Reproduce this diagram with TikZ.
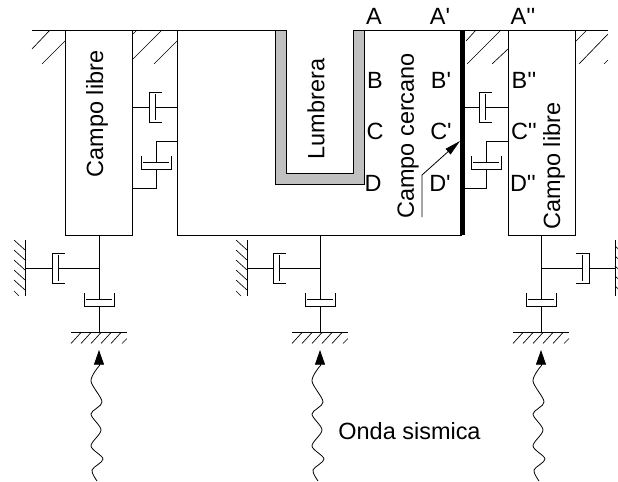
\documentclass[tikz,border=0pt]{standalone}
\usepackage{xcolor}
\usepackage{fontspec}
\newfontfamily\rotulofont{Liberation Sans}
\usetikzlibrary{arrows.meta}
\definecolor{muro}{HTML}{C0C0C0}
\tikzset{
    caja/.style={draw, rectangle, inner sep=0pt},
    rotulo/.style={inner sep=0pt},
    rotuloV/.style={inner sep=0pt, rotate=90},
    onda/.style={line width=0.6pt},
    punta/.style={-{Triangle[length=11pt, width=7.5pt]}, line width=0.6pt},
    amortiguador/.pic={
        \draw (-15,-13) -- (-15,0) -- (15,0) -- (15,-13);
        \draw (-13,-6.5) -- (13,-6.5);
        \coordinate (-cup) at (0,0);
        \coordinate (-piston) at (0,-6.5);
    },
    suelo/.pic={
        \draw (-28,0) -- (28,0);
        \foreach \t in {-18,-8,2,12,22}
            \draw[line width=0.5pt] (\t,0) -- ++(-10,11);
        \draw[line width=0.5pt] (28,6) -- (23,11);
        \coordinate (-top) at (0,0);
    },
}
\begin{document}
\begin{tikzpicture}[x=0.75pt, y=-0.75pt, line width=0.75pt, >=Stealth, font=\rotulofont\fontsize{17.6}{20}\selectfont]
    \useasboundingbox (0,0) rectangle (618,482);

    % superficie
    \draw (32,30) -- (275,30);
    \draw (364,30) -- (608,30);
    \foreach \a/\b/\c/\d in {50/30/32/49, 65/41/42/64, 137/30/132/35, 162/30/132/60, 177/41/154/64,
        476/30/466/41, 501/30/467/64, 508/49/492/64, 587/30/575/42, 608/34/579/64, 608/60/604/64}
        \draw[line width=0.5pt] (\a,\b) -- (\c,\d);

    % cajas
    \node[caja, fill=white, minimum width=50.25pt, minimum height=153.75pt] (libreL) at (98.5,132.5) {};
    \node[caja, fill=white, minimum width=50.25pt, minimum height=153.75pt] (libreR) at (541.5,132.5) {};
    \coordinate (estA) at (177,30);
    \coordinate (estB) at (177,235);
    \coordinate (estC) at (462,235);
    \coordinate (estD) at (462,30);
    \draw (estA) -- (estB) -- (estC);
    \draw (364,30) -- (estD);
    \draw[line width=3.75pt] (estD) -- (estC);
    \coordinate (estS) at (320,235);

    % lumbrera
    \draw[fill=muro] (275,30) -- (275,184) -- (364,184) -- (364,30) -- (353,30) -- (353,173) -- (286,173) -- (286,30) -- cycle;

    % amortiguadores entre cajas
    \pic[rotate=-90] (hL) at (149,107) {amortiguador};
    \pic (vL) at (156,169) {amortiguador};
    \draw (132,107) -- (hL-cup);
    \draw (hL-piston) -- (177,107);
    \draw (132,188) -- (156,188) -- (vL-cup);
    \draw (vL-piston) -- (156,141) -- (177,141);
    \pic[rotate=-90] (hR) at (479,107) {amortiguador};
    \pic (vR) at (486,169) {amortiguador};
    \draw (estD |- hR-cup) -- (hR-cup);
    \draw (hR-piston) -- (libreR.west |- hR-piston);
    \draw (462,188) -- (486,188) -- (vR-cup);
    \draw (vR-piston) -- (486,141) -- (508,141);

    % apoyos
    \pic (sueloL) at (99,332.5) {suelo};
    \pic (sueloM) at (320,332.5) {suelo};
    \pic (sueloR) at (541,332.5) {suelo};
    \pic (baseL) at (99,306) {amortiguador};
    \pic (baseM) at (320,306) {amortiguador};
    \pic (baseR) at (541,306) {amortiguador};
    \draw (libreL.south -| baseL-cup) -- (baseL-piston);
    \draw (estS) -- (baseM-piston);
    \draw (libreR.south -| baseR-cup) -- (baseR-piston);
    \draw (baseL-cup) -- (sueloL-top);
    \draw (baseM-cup) -- (sueloM-top);
    \draw (baseR-cup) -- (sueloR-top);

    \pic[rotate=-90] (muroL) at (25,268) {suelo};
    \pic[rotate=-90] (muroM) at (247,268) {suelo};
    \pic[rotate=90] (muroR) at (615,268) {suelo};
    \pic[rotate=-90] (latL) at (52,268) {amortiguador};
    \pic[rotate=-90] (latM) at (273,268) {amortiguador};
    \pic[rotate=90] (latR) at (589,268) {amortiguador};
    \draw (muroL-top) -- (latL-cup);
    \draw (latL-piston) -- (baseL-cup |- latL-piston);
    \draw (muroM-top) -- (latM-cup);
    \draw (latM-piston) -- (baseM-cup |- latM-piston);
    \draw (muroR-top) -- (latR-cup);
    \draw (latR-piston) -- (baseR-cup |- latR-piston);

    % ondas
    \foreach \s/\n in {0/a, 221/b, 442/c} {
        \begin{scope}[xshift=\s*0.75pt]
            \coordinate (ondaI\n) at (99,366);
            \coordinate (ondaF\n) at (99,350);
            \draw[onda] plot[smooth] coordinates {(99,366) (91,381) (102,402) (91,414) (101,430) (91,446) (103,459) (92,470) (97,481)};
            \draw[punta] (ondaI\n) -- (ondaF\n);
        \end{scope}
    }

    % flecha del campo cercano
    \coordinate (flechaI) at (422,217);
    \coordinate (flechaC) at (422,175);
    \coordinate (flechaF) at (460,141);
    \draw[onda, -{Triangle[length=12pt, width=5.5pt]}] (flechaI) -- (flechaC) -- (flechaF);

    % rotulos
    \node[rotulo] (A) at (374,16) {A};
    \node[rotulo] (Ap) at (440,16) {A'};
    \node[rotulo] (App) at (523,16) {A''};
    \node[rotulo] (B) at (375,80) {B};
    \node[rotulo] (Bp) at (441,80) {B'};
    \node[rotulo] (Bpp) at (524,80) {B''};
    \node[rotulo] (C) at (375,131) {C};
    \node[rotulo] (Cp) at (441,131) {C'};
    \node[rotulo] (Cpp) at (524,131) {C''};
    \node[rotulo] (D) at (373,183) {D};
    \node[rotulo] (Dp) at (440,183) {D'};
    \node[rotulo] (Dpp) at (523,183) {D''};
    \node[rotuloV] (txtL) at (97,114) {Campo libre};
    \node[rotuloV] (txtR) at (554,166) {Campo libre};
    \node[rotuloV] (txtC) at (408,136) {Campo cercano};
    \node[rotuloV] (txtT) at (316,109) {Lumbrera};
    \node[rotulo] (txtO) at (409.5,431) {Onda sismica};
\end{tikzpicture}
\end{document}
